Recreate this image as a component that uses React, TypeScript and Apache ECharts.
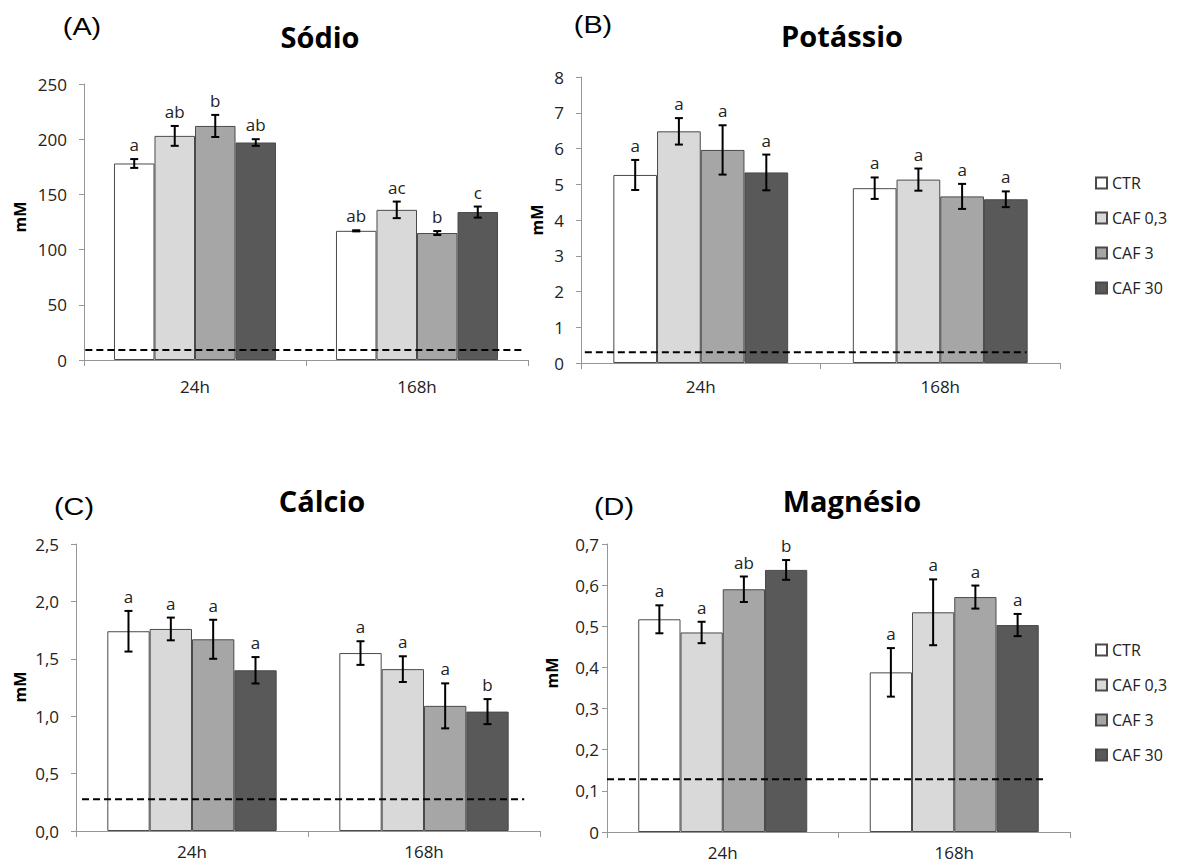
import React, { useEffect, useRef } from "react";
import * as echarts from "echarts";

// ---- data ----
const times = ["24h", "168h"];
const groups = ["CTR", "CAF 0,3", "CAF 3", "CAF 30"];
const groupColors = ["#ffffff", "#d9d9d9", "#a6a6a6", "#595959"];

// values per group: [24h, 168h]
const sodioMean = [[178, 117], [203, 136], [212, 115], [197, 134]];
const sodioErr = [[4, 0.5], [9, 7.5], [10, 1.8], [3, 5]];
const sodioLetters = [["a", "ab"], ["ab", "ac"], ["b", "b"], ["ab", "c"]];
const sodioRef = 9;

const potassioMean = [[5.26, 4.89], [6.48, 5.13], [5.96, 4.66], [5.33, 4.58]];
const potassioErr = [[0.42, 0.3], [0.37, 0.31], [0.69, 0.35], [0.5, 0.22]];
const potassioLetters = [["a", "a"], ["a", "a"], ["a", "a"], ["a", "a"]];
const potassioRef = 0.3;

const calcioMean = [[1.74, 1.55], [1.76, 1.41], [1.67, 1.09], [1.4, 1.04]];
const calcioErr = [[0.177, 0.103], [0.099, 0.112], [0.17, 0.196], [0.115, 0.109]];
const calcioLetters = [["a", "a"], ["a", "a"], ["a", "a"], ["a", "b"]];
const calcioRef = 0.276;

const magnesioMean = [[0.517, 0.388], [0.485, 0.534], [0.59, 0.571], [0.637, 0.503]];
const magnesioErr = [[0.034, 0.059], [0.026, 0.08], [0.031, 0.028], [0.024, 0.027]];
const magnesioLetters = [["a", "a"], ["a", "a"], ["ab", "a"], ["b", "a"]];
const magnesioRef = 0.128;

// ---- layout ----
const GAP = 0.27;
const FONT = "Open Sans";
const comma1 = (v: number) => v.toFixed(1).replace(".", ",");

const panels = [
  {
    tag: "(A)", title: "Sódio", mean: sodioMean, err: sodioErr, letters: sodioLetters, ref: sodioRef,
    max: 250, interval: 50, fmt: (v: number) => String(v),
    grid: { left: 84, top: 84, width: 444, height: 276 },
    titlePos: [320, 36], tagPos: [82, 27], mMPos: [20, 217], refSpan: [0.003, 0.99], labelMargin: 17, xMargin: 18,
  },
  {
    tag: "(B)", title: "Potássio", mean: potassioMean, err: potassioErr, letters: potassioLetters, ref: potassioRef,
    max: 8, interval: 1, fmt: (v: number) => String(v),
    grid: { left: 581, top: 77, width: 479, height: 286 },
    titlePos: [842, 35], tagPos: [593, 25], mMPos: [537, 220], refSpan: [0.008, 0.93], labelMargin: 17, xMargin: 15,
  },
  {
    tag: "(C)", title: "Cálcio", mean: calcioMean, err: calcioErr, letters: calcioLetters, ref: calcioRef,
    max: 2.5, interval: 0.5, fmt: (v: number) => comma1(v),
    grid: { left: 76, top: 544, width: 464, height: 287 },
    titlePos: [322, 500], tagPos: [74, 507], mMPos: [20, 687], refSpan: [0.013, 0.966], labelMargin: 17, xMargin: 12,
  },
  {
    tag: "(D)", title: "Magnésio", mean: magnesioMean, err: magnesioErr, letters: magnesioLetters, ref: magnesioRef,
    max: 0.7, interval: 0.1, fmt: (v: number) => (v === 0 ? "0" : comma1(v)),
    grid: { left: 607, top: 544, width: 463, height: 288 },
    titlePos: [852, 500], tagPos: [614, 507], mMPos: [552, 673], refSpan: [0.0, 0.95], labelMargin: 8, xMargin: 12,
  },
];

function buildOption() {
  const grid: any[] = [];
  const xAxis: any[] = [];
  const yAxis: any[] = [];
  const series: any[] = [];
  const graphic: any[] = [];
  const axisColor = "#969696";

  panels.forEach((p, k) => {
    grid.push({ ...p.grid, containLabel: false, outerBoundsMode: "none" });
    xAxis.push({
      type: "category",
      gridIndex: k,
      data: times,
      axisLine: { show: true, lineStyle: { color: axisColor, width: 1 } },
      axisTick: { show: true, length: 6, lineStyle: { color: axisColor } },
      axisLabel: { color: "#222", fontSize: 17, fontFamily: FONT, margin: p.xMargin },
      splitLine: { show: false },
    });
    xAxis.push({ type: "value", gridIndex: k, min: 0, max: 1, show: false });
    yAxis.push({
      type: "value",
      gridIndex: k,
      min: 0,
      max: p.max,
      interval: p.interval,
      axisLine: { show: true, lineStyle: { color: axisColor, width: 1 } },
      axisTick: { show: true, length: 5, lineStyle: { color: axisColor } },
      axisLabel: { color: "#222", fontSize: 17, fontFamily: FONT, margin: p.labelMargin, formatter: p.fmt },
      splitLine: { show: false },
    });

    groups.forEach((g, gi) => {
      series.push({
        type: "bar",
        name: g,
        xAxisIndex: 2 * k,
        yAxisIndex: k,
        data: p.mean[gi],
        barGap: "0%",
        barCategoryGap: GAP * 100 + "%",
        itemStyle: { color: groupColors[gi], borderColor: "#4a4a4a", borderWidth: 1 },
        silent: true,
        z: 2,
      });
    });

    const errData: number[][] = [];
    const letterList: string[] = [];
    groups.forEach((_, gi) => {
      times.forEach((__, ti) => {
        errData.push([ti, gi, p.mean[gi][ti], p.err[gi][ti]]);
        letterList.push(p.letters[gi][ti]);
      });
    });

    series.push({
      type: "custom",
      xAxisIndex: 2 * k,
      yAxisIndex: k,
      data: errData,
      encode: { x: 0, y: 2 },
      silent: true,
      z: 5,
      renderItem: (params: any, api: any) => {
        const cat = api.value(0);
        const gi = api.value(1);
        const mean = api.value(2);
        const err = api.value(3);
        const band = api.size([1, 0])[0];
        const bw = (band * (1 - GAP)) / 4;
        const cx = api.coord([cat, mean])[0] + (gi - 1.5) * bw;
        const yTop = api.coord([cat, mean + err])[1];
        const yBot = api.coord([cat, mean - err])[1];
        const cap = 4;
        const st = { stroke: "#000", lineWidth: 2 };
        return {
          type: "group",
          children: [
            { type: "line", shape: { x1: cx, y1: yTop, x2: cx, y2: yBot }, style: st },
            { type: "line", shape: { x1: cx - cap, y1: yTop, x2: cx + cap, y2: yTop }, style: st },
            { type: "line", shape: { x1: cx - cap, y1: yBot, x2: cx + cap, y2: yBot }, style: st },
            {
              type: "text",
              x: cx,
              y: yTop - 6,
              style: {
                text: letterList[params.dataIndex],
                fill: "#222",
                fontSize: 17,
                fontFamily: FONT,
                align: "center",
                verticalAlign: "bottom",
              },
            },
          ],
        };
      },
    });

    series.push({
      type: "line",
      xAxisIndex: 2 * k + 1,
      yAxisIndex: k,
      data: [[p.refSpan[0], p.ref], [p.refSpan[1], p.ref]],
      symbol: "none",
      silent: true,
      lineStyle: { color: "#000", width: 2, type: [7, 4] },
      z: 6,
    });

    graphic.push({
      type: "text",
      x: p.titlePos[0],
      y: p.titlePos[1],
      style: {
        text: p.title, fill: "#000", fontSize: 29, fontWeight: "bold", fontFamily: FONT,
        align: "center", verticalAlign: "middle",
      },
    });
    graphic.push({
      type: "text",
      x: p.tagPos[0],
      y: p.tagPos[1],
      scaleX: 1.2,
      style: {
        text: p.tag, fill: "#000", fontSize: 24, fontFamily: "Liberation Sans",
        align: "center", verticalAlign: "middle",
      },
    });
    graphic.push({
      type: "text",
      x: p.mMPos[0],
      y: p.mMPos[1],
      rotation: Math.PI / 2,
      style: {
        text: "mM", fill: "#000", fontSize: 16, fontWeight: "bold", fontFamily: FONT,
        align: "center", verticalAlign: "middle",
      },
    });
  });

  const legendBase = {
    orient: "vertical",
    left: 1090,
    data: groups,
    icon: "rect",
    itemWidth: 11,
    itemHeight: 11,
    itemGap: 19,
    selectedMode: false,
    textStyle: { fontSize: 16, fontFamily: FONT, color: "#222" },
  };

  return {
    animation: false,
    backgroundColor: "#ffffff",
    textStyle: { fontFamily: FONT },
    grid,
    xAxis,
    yAxis,
    series,
    graphic,
    legend: [
      { ...legendBase, top: 170 },
      { ...legendBase, top: 637 },
    ],
  };
}

export default function App() {
  const ref = useRef<HTMLDivElement>(null);
  useEffect(() => {
    if (!ref.current) return;
    const chart = echarts.init(ref.current, undefined, { renderer: "svg" });
    chart.setOption(buildOption() as any);
    return () => chart.dispose();
  }, []);
  return (
    <div
      ref={ref}
      style={{ position: "absolute", left: 0, top: 0, width: 1180, height: 865, background: "#fff" }}
    />
  );
}
